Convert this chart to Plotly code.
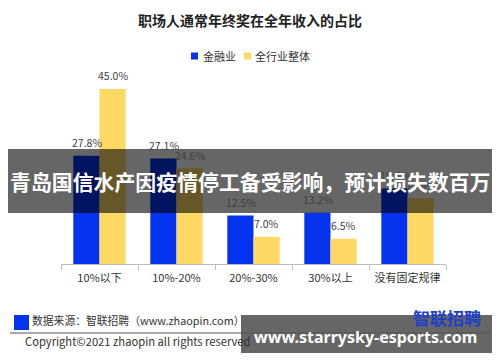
import plotly.graph_objects as go

categories = ["10%以下", "10%-20%", "20%-30%", "30%以上", "没有固定规律"]
finance = [27.8, 27.1, 12.5, 13.2, 19.4]
overall = [45.0, 24.6, 7.0, 6.5, 16.9]
series_names = ["金融业", "全行业整体"]

BLUE = "#0433EE"
YELLOW = "#FFD966"
FONT = "Noto Sans CJK SC"


def py(p):
    return 1 - p / 362


def px(p):
    return p / 500


fig = go.Figure()
fig.add_trace(go.Bar(x=categories, y=finance, name=series_names[0], showlegend=False,
                     marker=dict(color=BLUE, line=dict(width=0))))
fig.add_trace(go.Bar(x=categories, y=overall, name=series_names[1], showlegend=False,
                     marker=dict(color=YELLOW, line=dict(width=0))))

annotations = []
for c, v in zip(categories, finance):
    annotations.append(dict(x=c, y=v, xref="x", yref="y", text=f"{v:.1f}%",
                            showarrow=False, xshift=-13, yshift=13,
                            xanchor="center", yanchor="middle",
                            font=dict(family=FONT, size=10.5, color="#404040")))
for c, v in zip(categories, overall):
    annotations.append(dict(x=c, y=v, xref="x", yref="y", text=f"{v:.1f}%",
                            showarrow=False, xshift=13, yshift=13,
                            xanchor="center", yanchor="middle",
                            font=dict(family=FONT, size=10.5, color="#404040")))


def txt(x, y, text, size, color, xanchor="center", family=FONT):
    return dict(x=px(x), y=py(y), xref="paper", yref="paper", text=text,
                showarrow=False, xanchor=xanchor, yanchor="middle",
                font=dict(family=family, size=size, color=color))


# title
annotations.append(txt(250, 20, "<b>职场人通常年终奖在全年收入的占比</b>", 14, "#222222"))
# custom legend
annotations.append(txt(201, 56, series_names[0], 11, "#333333", xanchor="left"))
annotations.append(txt(253, 56, series_names[1], 11, "#333333", xanchor="left"))
# footer
annotations.append(txt(30, 320, "数据来源：智联招聘（www.zhaopin.com）", 10.8, "#333333", xanchor="left"))
annotations.append(txt(23, 341, "Copyright©2021 zhaopin all rights reserved", 11.2, "#333333", xanchor="left"))
# banner text
annotations.append(txt(250, 181, "<b>青岛国信水产因疫情停工备受影响，预计损失数百万</b>", 20.9, "white"))
# logo
annotations.append(txt(483, 317, "<b>智联招聘</b>", 17, "#1E3FCB", xanchor="right"))
# watermark
annotations.append(txt(365, 337, "<b>www.starrysky-esports.com</b>", 16, "white", family="Noto Sans"))

shapes = [
    dict(type="rect", xref="paper", yref="paper", x0=px(191), x1=px(198),
         y0=py(59.5), y1=py(52.5), fillcolor=BLUE, line=dict(width=0)),
    dict(type="rect", xref="paper", yref="paper", x0=px(244), x1=px(251),
         y0=py(59.5), y1=py(52.5), fillcolor=YELLOW, line=dict(width=0)),
    dict(type="rect", xref="paper", yref="paper", x0=px(14), x1=px(29),
         y0=py(330), y1=py(315), fillcolor=BLUE, line=dict(width=0)),
    dict(type="rect", xref="paper", yref="paper", x0=px(8), x1=px(492),
         y0=py(213), y1=py(149), fillcolor="rgba(0,0,0,0.6)",
         line=dict(width=0), layer="above"),
    dict(type="rect", xref="paper", yref="paper", x0=px(241), x1=px(492),
         y0=py(353), y1=py(315), fillcolor="rgba(0,0,0,0.6)",
         line=dict(width=0), layer="above"),
    dict(type="line", xref="paper", yref="paper", x0=px(10), x1=px(490),
         y0=py(333), y1=py(333), line=dict(color="#555555", width=1),
         layer="above"),
]

fig.update_layout(
    width=500, height=362,
    margin=dict(l=0, r=0, t=0, b=0),
    paper_bgcolor="white", plot_bgcolor="white",
    barmode="group", bargap=0.32, bargroupgap=0,
    font=dict(family=FONT, color="#333333"),
    showlegend=False,
    xaxis=dict(domain=[px(61), px(446)], showline=True, linecolor="#BFBFBF",
               linewidth=1, ticks="outside", tickson="boundaries", ticklen=5,
               tickcolor="#BFBFBF", showgrid=False, ticklabelstandoff=4,
               tickfont=dict(family=FONT, size=11, color="#333333")),
    yaxis=dict(domain=[py(264), py(69.5)], range=[0, 50],
               visible=False, showgrid=False, zeroline=False),
    annotations=annotations,
    shapes=shapes,
)

fig.write_html("out.html")
